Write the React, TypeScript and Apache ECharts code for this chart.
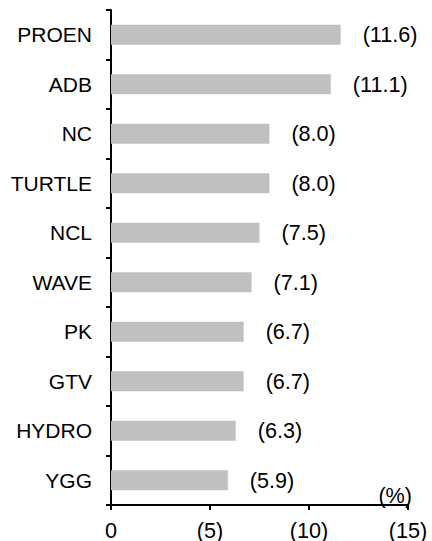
import React, { useEffect, useRef } from "react";
import * as echarts from "echarts";

const categories = ["PROEN", "ADB", "NC", "TURTLE", "NCL", "WAVE", "PK", "GTV", "HYDRO", "YGG"];
const values = [11.6, 11.1, 8.0, 8.0, 7.5, 7.1, 6.7, 6.7, 6.3, 5.9];
const unitLabel = "(%)";

const FONT = "Liberation Sans, Arial, sans-serif";
const FS = 21;
const FS_NUM = 21.6;

export default function App() {
  const ref = useRef<HTMLDivElement>(null);
  useEffect(() => {
    const chart = echarts.init(ref.current!, null, { renderer: "svg" });
    chart.setOption({
      animation: false,
      backgroundColor: "#ffffff",
      textStyle: { fontFamily: FONT },
      grid: { left: 111, right: 24, top: 10, bottom: 33, containLabel: false },
      xAxis: {
        type: "value",
        min: 0,
        max: 15,
        interval: 5,
        axisLine: { show: true, lineStyle: { color: "#000", width: 2 } },
        axisTick: { show: true, length: 5, lineStyle: { color: "#000", width: 2 } },
        splitLine: { show: false },
        axisLabel: {
          color: "#000",
          fontSize: FS_NUM,
          fontFamily: FONT,
          margin: 14,
          formatter: (v: number) => (v === 0 ? "0" : "(" + v + ")"),
        },
      },
      yAxis: {
        type: "category",
        data: categories,
        inverse: true,
        axisLine: { show: true, lineStyle: { color: "#000", width: 2 } },
        axisTick: { show: true, length: 5, alignWithLabel: false, lineStyle: { color: "#000", width: 2 } },
        axisLabel: { color: "#000", fontSize: FS, fontFamily: FONT, margin: 19 },
      },
      series: [
        {
          type: "bar",
          data: values,
          barWidth: "40%",
          itemStyle: { color: "#c0c0c0" },
          label: {
            show: true,
            position: "right",
            distance: 22,
            color: "#000",
            fontSize: FS_NUM,
            fontFamily: FONT,
            formatter: (p: any) => "(" + Number(p.value).toFixed(1) + ")",
          },
        },
      ],
      graphic: [
        {
          type: "text",
          right: 20,
          top: 484,
          style: { text: unitLabel, fill: "#000", font: `${FS_NUM}px ${FONT}` },
        },
      ],
    });
    return () => chart.dispose();
  }, []);
  return <div ref={ref} style={{ position: "fixed", left: 0, top: 0, width: 432, height: 541 }} />;
}
